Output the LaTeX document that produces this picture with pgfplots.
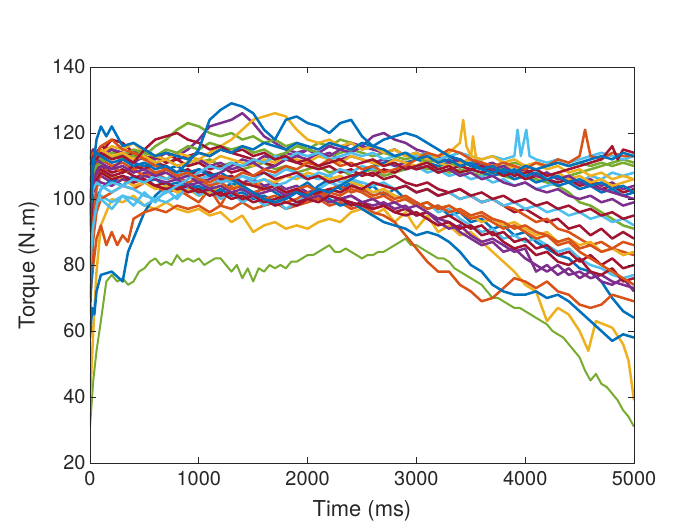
\documentclass[border=0pt]{standalone}
\usepackage{pgfplots}
\pgfplotsset{compat=1.18}
\usepackage{fontspec}
\setmainfont{TeX Gyre Heros}
\definecolor{mblue}{RGB}{0,114,189}
\definecolor{morange}{RGB}{217,83,25}
\definecolor{myellow}{RGB}{237,177,32}
\definecolor{mpurple}{RGB}{126,47,142}
\definecolor{mgreen}{RGB}{119,172,48}
\definecolor{mlblue}{RGB}{77,190,238}
\definecolor{mred}{RGB}{162,20,47}
\definecolor{axgray}{RGB}{38,38,38}
\begin{document}
\begin{tikzpicture}
\path[use as bounding box] (-90bp,-62bp) rectangle (610bp,463bp);
\begin{axis}[
  at={(0,0)}, anchor=south west,
  scale only axis, width=544bp, height=396bp,
  xmin=0, xmax=5000, ymin=20, ymax=140,
  xtick={0,1000,2000,3000,4000,5000},
  ytick={20,40,60,80,100,120,140},
  tick align=inside, major tick length=6bp,
  xtick pos=both, ytick pos=both,
  axis line style={axgray, line width=0.6bp},
  every tick/.style={axgray, line width=0.6bp},
  tick label style={font=\fontsize{20}{24}\selectfont, text=axgray},
  /pgf/number format/assume math mode=true,
  /pgf/number format/1000 sep={},
  xticklabel style={yshift=-5bp},
  yticklabel style={xshift=-1bp},
  label style={font=\fontsize{22}{26}\selectfont, text=axgray},
  xlabel={Time (ms)},
  ylabel={Torque (N.m)},
  xlabel style={at={(axis description cs:0.5,-0.121)}, anchor=center},
  ylabel style={at={(axis description cs:-0.112,0.5)}, anchor=center},
  axis on top,
  clip=true,
  every axis plot/.append style={line width=2.5bp, line join=round},
]
% G1
\addplot[mgreen, line width=2bp] coordinates {(0,31)(30,45)(60,54)(100,63)(150,75)(200,77)(250,75)(300,76)(350,74)(400,75)(450,78)(500,79)(550,81)(600,82)(650,80)(700,81)(750,80)(800,83)(850,81)(900,82)(950,81)(1000,82)(1050,80)(1100,81)(1150,82)(1200,82)(1250,80)(1300,78)(1350,80)(1400,76)(1450,79)(1500,75)(1550,79)(1600,78)(1650,80)(1700,79)(1750,80)(1800,79)(1850,81)(1900,81)(1950,82)(2000,83)(2050,83)(2100,84)(2150,85)(2200,86)(2250,84)(2300,84)(2350,85)(2400,84)(2450,83)(2500,82)(2550,83)(2600,83)(2650,84)(2700,84)(2750,85)(2800,86)(2850,87)(2900,88)(2950,86)(3000,86)(3050,85)(3100,84)(3150,83)(3200,82)(3250,82)(3300,81)(3350,79)(3400,78)(3450,77)(3500,76)(3550,75)(3600,74)(3650,72)(3700,70)(3750,70)(3800,69)(3850,68)(3900,67)(3950,67)(4000,66)(4050,65)(4100,64)(4150,63)(4200,62)(4250,60)(4300,59)(4350,58)(4400,56)(4450,54)(4500,52)(4550,48)(4600,45)(4650,47)(4700,44)(4750,43)(4800,41)(4850,39)(4900,36)(4950,34)(5000,31)};
% Y1
\addplot[myellow] coordinates {(0,39)(30,60)(60,78)(100,92)(200,100)(300,99)(400,101)(500,98)(600,97)(700,99)(800,97)(900,96)(1000,97)(1100,95)(1200,96)(1300,93)(1400,95)(1500,90)(1600,92)(1700,93)(1800,91)(1900,92)(2000,91)(2100,93)(2200,94)(2300,93)(2400,96)(2500,97)(2600,95)(2700,97)(2800,93)(2900,96)(3000,91)(3100,95)(3200,90)(3300,92)(3400,89)(3500,90)(3600,87)(3700,84)(3800,81)(3900,78)(4000,74)(4100,72)(4200,63)(4300,67)(4400,65)(4500,60)(4580,54)(4650,63)(4800,61)(4900,56)(4950,51)(5000,39)};
% B1
\addplot[mblue] coordinates {(0,58)(20,67)(40,65)(60,72)(100,77)(200,78)(300,75)(350,84)(400,88)(500,96)(600,101)(700,104)(800,102)(900,105)(1000,103)(1100,104)(1200,102)(1300,105)(1400,103)(1500,101)(1600,104)(1700,102)(1800,100)(1900,103)(2000,101)(2100,104)(2200,106)(2300,103)(2400,105)(2500,102)(2600,104)(2700,101)(2800,103)(2900,100)(3000,99)(3100,97)(3200,98)(3300,95)(3400,96)(3500,93)(3600,94)(3700,91)(3800,92)(3900,89)(4000,90)(4100,87)(4200,85)(4300,83)(4400,82)(4500,79)(4600,78)(4700,75)(4800,70)(4900,66)(5000,64)};
% O1
\addplot[morange] coordinates {(0,70)(30,80)(60,88)(100,92)(150,86)(200,90)(250,86)(300,89)(350,87)(400,94)(500,96)(600,97)(700,96)(800,98)(900,97)(1000,98)(1100,96)(1200,98)(1300,97)(1400,99)(1500,97)(1600,98)(1700,99)(1800,97)(1900,98)(2000,99)(2100,100)(2200,98)(2300,99)(2400,97)(2500,98)(2600,96)(2700,95)(2800,93)(2900,89)(3000,85)(3100,81)(3200,78)(3300,78)(3400,74)(3500,72)(3600,69)(3700,70)(3800,73)(3900,76)(4000,75)(4100,73)(4200,75)(4300,72)(4400,71)(4500,68)(4600,67)(4700,68)(4800,71)(4900,70)(5000,69)};
% P3
\addplot[mpurple] coordinates {(0,100)(30,106)(60,108)(100,107)(200,105)(300,107)(400,106)(500,108)(600,107)(700,109)(800,108)(900,107)(1000,109)(1100,108)(1200,106)(1300,107)(1400,105)(1500,106)(1600,104)(1700,105)(1800,103)(1900,104)(2000,102)(2100,103)(2200,101)(2300,100)(2400,101)(2500,99)(2600,98)(2700,99)(2800,97)(2900,98)(3000,95)(3100,96)(3200,93)(3300,91)(3400,92)(3500,89)(3600,87)(3700,88)(3800,86)(3900,84)(4000,85)(4100,78)(4200,80)(4300,77)(4400,79)(4500,76)(4600,78)(4700,75)(4800,74)(4900,76)(5000,72)};
% G3
\addplot[mgreen] coordinates {(0,108)(30,112)(60,114)(100,113)(200,115)(300,114)(400,113)(500,112)(600,113)(700,111)(800,112)(900,110)(1000,111)(1100,112)(1200,110)(1300,111)(1400,109)(1500,110)(1600,111)(1700,109)(1800,110)(1900,108)(2000,109)(2100,110)(2200,108)(2300,109)(2400,107)(2500,108)(2600,109)(2700,107)(2800,108)(2900,109)(3000,110)(3100,109)(3200,110)(3300,108)(3400,109)(3500,108)(3600,107)(3700,108)(3800,107)(3900,106)(4000,107)(4100,106)(4200,105)(4300,104)(4400,102)(4500,99)(4600,98)(4700,96)(4800,94)(4900,92)(5000,91)};
% LB2
\addplot[mlblue] coordinates {(0,90)(30,98)(60,102)(100,101)(200,99)(300,101)(400,100)(500,98)(600,100)(700,99)(800,101)(900,103)(1000,102)(1100,104)(1200,106)(1300,105)(1400,107)(1500,106)(1600,108)(1700,107)(1800,109)(1900,108)(2000,107)(2100,106)(2200,107)(2300,105)(2400,106)(2500,104)(2600,102)(2700,103)(2800,101)(2900,100)(3000,98)(3100,99)(3200,96)(3300,97)(3400,94)(3500,92)(3600,90)(3700,91)(3800,88)(3900,89)(4000,87)(4100,88)(4200,86)(4300,84)(4400,85)(4500,82)(4600,80)(4700,79)(4800,77)(4900,76)(5000,77)};
% R1
\addplot[mred] coordinates {(0,93)(30,104)(60,110)(100,114)(200,118)(300,117)(400,114)(500,115)(600,113)(700,114)(800,112)(900,113)(1000,114)(1100,113)(1200,115)(1300,114)(1400,113)(1500,112)(1600,111)(1700,110)(1800,112)(1900,111)(2000,110)(2100,109)(2200,110)(2300,108)(2400,109)(2500,107)(2600,108)(2700,106)(2800,107)(2900,105)(3000,104)(3100,105)(3200,103)(3300,102)(3400,103)(3500,101)(3600,99)(3700,100)(3800,98)(3900,96)(4000,97)(4100,95)(4200,93)(4300,94)(4400,91)(4500,92)(4600,89)(4700,91)(4800,88)(4900,90)(5000,88)};
% B3
\addplot[mblue] coordinates {(0,65)(30,90)(60,100)(100,103)(200,106)(300,104)(400,107)(500,105)(600,106)(700,104)(800,105)(900,103)(1000,104)(1100,102)(1200,103)(1300,101)(1400,102)(1500,100)(1600,101)(1700,99)(1800,101)(1900,103)(2000,105)(2100,102)(2200,100)(2300,98)(2400,99)(2500,97)(2600,95)(2700,93)(2800,92)(2900,91)(3000,89)(3100,90)(3200,89)(3300,87)(3400,84)(3500,80)(3600,78)(3700,74)(3800,72)(3900,71)(4000,71)(4100,72)(4200,70)(4300,71)(4400,69)(4500,66)(4600,63)(4700,60)(4800,57)(4900,59)(5000,58)};
% O3
\addplot[morange] coordinates {(0,75)(30,88)(60,96)(100,100)(200,102)(300,104)(400,103)(500,105)(600,104)(700,102)(800,103)(900,101)(1000,99)(1100,103)(1200,98)(1300,104)(1400,99)(1500,102)(1600,100)(1700,101)(1800,99)(1900,100)(2000,102)(2100,101)(2200,103)(2300,102)(2400,104)(2500,103)(2600,105)(2700,104)(2800,103)(2900,104)(3000,102)(3100,103)(3200,101)(3300,102)(3400,100)(3500,101)(3600,99)(3700,100)(3800,98)(3900,97)(4000,95)(4100,93)(4200,94)(4300,91)(4400,90)(4500,88)(4600,86)(4700,87)(4800,85)(4900,84)(5000,83)};
% Y3
\addplot[myellow] coordinates {(0,100)(30,104)(60,106)(100,108)(200,107)(300,106)(400,104)(500,105)(600,103)(700,104)(800,102)(900,103)(1000,101)(1100,102)(1200,104)(1300,103)(1400,105)(1500,104)(1600,106)(1700,105)(1800,107)(1900,106)(2000,108)(2100,107)(2200,106)(2300,107)(2400,105)(2500,104)(2600,102)(2700,103)(2800,101)(2900,100)(3000,98)(3100,99)(3200,97)(3300,98)(3400,96)(3500,95)(3600,93)(3700,94)(3800,92)(3900,93)(4000,91)(4100,89)(4200,90)(4300,87)(4400,88)(4500,86)(4600,87)(4700,84)(4800,85)(4900,83)(5000,84)};
% LB3
\addplot[mlblue] coordinates {(0,85)(30,95)(60,99)(100,100)(200,97)(300,101)(400,98)(500,102)(600,99)(700,103)(800,100)(900,104)(1000,101)(1100,103)(1200,100)(1300,102)(1400,99)(1500,101)(1600,98)(1700,100)(1800,97)(1900,99)(2000,101)(2100,103)(2200,105)(2300,104)(2400,106)(2500,105)(2600,104)(2700,105)(2800,103)(2900,104)(3000,102)(3100,103)(3200,101)(3300,102)(3400,100)(3500,101)(3600,99)(3700,100)(3800,98)(3900,99)(4000,97)(4100,98)(4200,96)(4300,97)(4400,95)(4500,96)(4600,94)(4700,95)(4800,93)(4900,94)(5000,92)};
% R3
\addplot[mred] coordinates {(0,98)(30,106)(60,109)(100,110)(200,108)(300,109)(400,107)(500,106)(600,104)(700,105)(800,103)(900,104)(1000,102)(1100,103)(1200,101)(1300,102)(1400,100)(1500,101)(1600,99)(1700,100)(1800,101)(1900,99)(2000,100)(2100,101)(2200,99)(2300,100)(2400,98)(2500,99)(2600,97)(2700,98)(2800,96)(2900,97)(3000,95)(3100,96)(3200,94)(3300,95)(3400,93)(3500,91)(3600,92)(3700,89)(3800,90)(3900,87)(4000,88)(4100,85)(4200,86)(4300,83)(4400,84)(4500,81)(4600,83)(4700,80)(4800,82)(4900,79)(5000,80)};
% O4
\addplot[morange] coordinates {(0,80)(30,95)(60,103)(100,108)(200,110)(300,108)(400,109)(500,107)(600,108)(700,106)(800,107)(900,105)(1000,106)(1100,104)(1200,105)(1300,103)(1400,104)(1500,102)(1600,103)(1700,104)(1800,102)(1900,103)(2000,101)(2100,100)(2200,102)(2300,101)(2400,103)(2500,102)(2600,100)(2700,101)(2800,99)(2900,100)(3000,98)(3100,99)(3200,97)(3300,98)(3400,96)(3500,94)(3600,95)(3700,93)(3800,91)(3900,92)(4000,90)(4100,88)(4200,89)(4300,87)(4400,88)(4500,85)(4600,86)(4700,84)(4800,85)(4900,87)(5000,86)};
% P5
\addplot[mpurple] coordinates {(0,97)(30,104)(60,106)(100,105)(200,104)(300,106)(400,105)(500,107)(600,106)(700,105)(800,106)(900,104)(1000,105)(1100,103)(1200,104)(1300,102)(1400,103)(1500,101)(1600,102)(1700,103)(1800,101)(1900,102)(2000,100)(2100,101)(2200,99)(2300,100)(2400,101)(2500,99)(2600,100)(2700,98)(2800,99)(2900,97)(3000,98)(3100,96)(3200,94)(3300,93)(3400,90)(3500,88)(3600,86)(3700,87)(3800,84)(3900,85)(4000,82)(4100,80)(4200,78)(4300,80)(4400,77)(4500,78)(4600,76)(4700,77)(4800,75)(4900,74)(5000,73)};
% R6
\addplot[mred] coordinates {(0,90)(30,102)(60,106)(100,108)(200,106)(300,107)(400,105)(500,106)(600,104)(700,103)(800,104)(900,102)(1000,103)(1100,101)(1200,102)(1300,100)(1400,101)(1500,99)(1600,100)(1700,98)(1800,99)(1900,98)(2000,100)(2100,99)(2200,101)(2300,100)(2400,99)(2500,98)(2600,97)(2700,98)(2800,96)(2900,95)(3000,96)(3100,94)(3200,92)(3300,93)(3400,91)(3500,92)(3600,89)(3700,90)(3800,87)(3900,85)(4000,86)(4100,83)(4200,84)(4300,81)(4400,80)(4500,82)(4600,78)(4700,77)(4800,79)(4900,75)(5000,76)};
% O5
\addplot[morange] coordinates {(0,100)(30,108)(60,111)(100,112)(200,110)(300,111)(400,109)(500,110)(600,108)(700,109)(800,107)(900,108)(1000,106)(1100,107)(1200,105)(1300,106)(1400,104)(1500,105)(1600,103)(1700,104)(1800,102)(1900,103)(2000,104)(2100,102)(2200,103)(2300,104)(2400,102)(2500,103)(2600,101)(2700,102)(2800,100)(2900,101)(3000,99)(3100,97)(3200,98)(3300,96)(3400,97)(3500,95)(3600,96)(3700,94)(3800,93)(3900,91)(4000,92)(4100,90)(4200,89)(4300,86)(4400,87)(4500,84)(4600,82)(4700,80)(4800,78)(4900,76)(5000,74)};
% R4
\addplot[mred] coordinates {(0,95)(30,105)(60,108)(100,109)(200,107)(300,108)(400,110)(500,109)(600,111)(700,110)(800,108)(900,109)(1000,107)(1100,108)(1200,106)(1300,107)(1400,105)(1500,104)(1600,103)(1700,104)(1800,102)(1900,103)(2000,101)(2100,102)(2200,103)(2300,102)(2400,104)(2500,103)(2600,105)(2700,104)(2800,103)(2900,104)(3000,102)(3100,103)(3200,101)(3300,102)(3400,103)(3500,101)(3600,102)(3700,100)(3800,101)(3900,99)(4000,100)(4100,98)(4200,99)(4300,97)(4400,98)(4500,96)(4600,97)(4700,95)(4800,96)(4900,94)(5000,95)};
% LB4
\addplot[mlblue] coordinates {(0,80)(30,92)(60,98)(100,103)(200,105)(300,104)(400,106)(500,105)(600,107)(700,106)(800,108)(900,107)(1000,106)(1100,107)(1200,105)(1300,106)(1400,107)(1500,105)(1600,106)(1700,104)(1800,105)(1900,107)(2000,106)(2100,108)(2200,107)(2300,109)(2400,108)(2500,110)(2600,109)(2700,111)(2800,110)(2900,109)(3000,110)(3100,108)(3200,109)(3300,107)(3400,108)(3500,106)(3600,107)(3700,105)(3800,106)(3900,104)(4000,105)(4100,103)(4200,104)(4300,105)(4400,106)(4500,105)(4600,107)(4700,106)(4800,108)(4900,107)(5000,108)};
% B6
\addplot[mblue] coordinates {(0,105)(30,110)(60,112)(100,111)(200,113)(300,112)(400,111)(500,110)(600,111)(700,109)(800,110)(900,108)(1000,109)(1100,107)(1200,108)(1300,106)(1400,104)(1500,102)(1600,100)(1700,99)(1800,100)(1900,102)(2000,101)(2100,103)(2200,102)(2300,104)(2400,106)(2500,108)(2600,110)(2700,111)(2800,112)(2900,111)(3000,112)(3100,111)(3200,110)(3300,111)(3400,110)(3500,109)(3600,108)(3700,107)(3800,108)(3900,106)(4000,107)(4100,105)(4200,106)(4300,104)(4400,105)(4500,103)(4600,104)(4700,102)(4800,103)(4900,101)(5000,102)};
% P1
\addplot[mpurple] coordinates {(0,95)(30,105)(60,108)(100,110)(200,109)(300,112)(400,111)(500,113)(600,112)(700,114)(800,113)(900,115)(1000,118)(1100,122)(1200,123)(1300,124)(1400,126)(1500,123)(1600,119)(1700,117)(1800,115)(1900,114)(2000,115)(2100,113)(2200,114)(2300,112)(2400,113)(2500,112)(2600,111)(2700,112)(2800,110)(2900,111)(3000,109)(3100,110)(3200,108)(3300,109)(3400,107)(3500,108)(3600,106)(3700,107)(3800,105)(3900,104)(4000,105)(4100,103)(4200,102)(4300,103)(4400,101)(4500,100)(4600,101)(4700,99)(4800,100)(4900,98)(5000,99)};
% G2
\addplot[mgreen] coordinates {(0,100)(30,108)(60,110)(100,111)(200,113)(300,112)(400,114)(500,113)(600,116)(700,118)(800,121)(900,123)(1000,122)(1100,120)(1200,119)(1300,120)(1400,118)(1500,119)(1600,117)(1700,118)(1800,116)(1900,117)(2000,115)(2100,117)(2200,116)(2300,118)(2400,117)(2500,115)(2600,116)(2700,114)(2800,115)(2900,113)(3000,114)(3100,112)(3200,113)(3300,111)(3400,112)(3500,110)(3600,111)(3700,109)(3800,110)(3900,108)(4000,109)(4100,107)(4200,108)(4300,106)(4400,107)(4500,108)(4600,109)(4700,110)(4800,111)(4900,112)(5000,111)};
% R5
\addplot[mred] coordinates {(0,112)(30,115)(60,114)(100,116)(200,115)(300,113)(400,114)(500,112)(600,113)(700,111)(800,112)(900,110)(1000,111)(1100,109)(1200,110)(1300,108)(1400,109)(1500,107)(1600,108)(1700,106)(1800,107)(1900,108)(2000,106)(2100,107)(2200,105)(2300,106)(2400,107)(2500,108)(2600,107)(2700,109)(2800,108)(2900,110)(3000,109)(3100,110)(3200,108)(3300,109)(3400,110)(3500,109)(3600,108)(3700,109)(3800,107)(3900,108)(4000,106)(4100,107)(4200,106)(4300,105)(4400,106)(4500,104)(4600,105)(4700,103)(4800,104)(4900,102)(5000,103)};
% P2
\addplot[mpurple] coordinates {(0,105)(30,110)(60,112)(100,111)(200,109)(300,110)(400,108)(500,109)(600,107)(700,108)(800,106)(900,107)(1000,105)(1100,106)(1200,108)(1300,110)(1400,112)(1500,111)(1600,113)(1700,112)(1800,114)(1900,113)(2000,115)(2100,114)(2200,116)(2300,115)(2400,117)(2500,116)(2600,119)(2700,120)(2800,118)(2900,117)(3000,115)(3100,114)(3200,112)(3300,113)(3400,111)(3500,112)(3600,110)(3700,111)(3800,109)(3900,110)(4000,108)(4100,107)(4200,108)(4300,106)(4400,107)(4500,105)(4600,106)(4700,104)(4800,105)(4900,103)(5000,104)};
% Y4
\addplot[myellow] coordinates {(0,114)(30,115)(60,113)(100,114)(200,116)(300,115)(400,117)(500,114)(600,113)(700,112)(800,114)(900,113)(1000,112)(1100,111)(1200,113)(1300,112)(1400,111)(1500,110)(1600,112)(1700,111)(1800,113)(1900,112)(2000,111)(2100,113)(2200,112)(2300,111)(2400,113)(2500,112)(2600,111)(2700,110)(2800,112)(2900,111)(3000,110)(3100,112)(3200,111)(3300,110)(3400,111)(3500,112)(3520,119)(3550,112)(3600,111)(3700,110)(3800,109)(3900,110)(4000,108)(4100,109)(4200,107)(4300,108)(4400,106)(4500,107)(4600,105)(4700,106)(4800,104)(4900,105)(5000,106)};
% G4
\addplot[mgreen] coordinates {(0,112)(30,114)(60,113)(100,112)(200,114)(300,113)(400,115)(500,114)(600,113)(700,115)(800,114)(900,116)(1000,115)(1100,117)(1200,116)(1300,115)(1400,116)(1500,114)(1600,115)(1700,113)(1800,114)(1900,116)(2000,115)(2100,114)(2200,113)(2300,114)(2400,115)(2500,114)(2600,113)(2700,114)(2800,113)(2900,112)(3000,113)(3100,111)(3200,112)(3300,111)(3400,110)(3500,111)(3600,110)(3700,109)(3800,110)(3900,111)(4000,110)(4100,111)(4200,110)(4300,111)(4400,110)(4500,111)(4600,110)(4700,111)(4800,110)(4900,111)(5000,110)};
% P4
\addplot[mpurple] coordinates {(0,113)(30,115)(60,114)(100,113)(200,115)(300,114)(400,112)(500,113)(600,111)(700,112)(800,110)(900,111)(1000,112)(1100,110)(1200,111)(1300,109)(1400,110)(1500,111)(1600,109)(1700,110)(1800,112)(1900,113)(2000,112)(2100,114)(2200,113)(2300,115)(2400,114)(2500,116)(2600,115)(2700,114)(2800,115)(2900,113)(3000,114)(3100,112)(3200,113)(3300,111)(3400,112)(3500,110)(3600,111)(3700,109)(3800,110)(3900,108)(4000,109)(4100,107)(4200,108)(4300,106)(4400,107)(4500,105)(4600,104)(4700,103)(4800,102)(4900,101)(5000,100)};
% LB1
\addplot[mlblue] coordinates {(0,97)(30,103)(60,105)(100,104)(200,102)(300,104)(400,103)(500,101)(600,100)(700,102)(800,104)(900,106)(1000,108)(1100,110)(1200,109)(1300,111)(1400,110)(1500,112)(1600,111)(1700,113)(1800,112)(1900,114)(2000,113)(2100,114)(2200,112)(2300,113)(2400,114)(2500,113)(2600,114)(2700,112)(2800,113)(2900,114)(3000,113)(3100,114)(3200,112)(3300,113)(3400,114)(3500,113)(3600,112)(3700,113)(3800,112)(3900,113)(3930,121)(3960,113)(4010,121)(4040,113)(4100,112)(4200,111)(4300,112)(4400,111)(4500,112)(4600,113)(4700,114)(4800,113)(4900,112)(5000,113)};
% Y2
\addplot[myellow] coordinates {(0,110)(30,113)(60,112)(100,115)(200,113)(300,114)(400,112)(500,113)(600,111)(700,112)(800,110)(900,111)(1000,112)(1100,114)(1200,116)(1300,118)(1400,121)(1500,124)(1600,125)(1700,126)(1800,125)(1900,121)(2000,118)(2100,117)(2200,118)(2300,116)(2400,117)(2500,115)(2600,116)(2700,114)(2800,115)(2900,113)(3000,114)(3100,112)(3200,113)(3300,114)(3400,117)(3430,124)(3460,116)(3500,113)(3600,112)(3700,113)(3800,111)(3900,112)(4000,110)(4100,111)(4200,109)(4300,110)(4400,108)(4500,109)(4600,107)(4700,108)(4800,106)(4900,107)(5000,106)};
% O2
\addplot[morange] coordinates {(0,112)(30,114)(60,113)(100,116)(200,118)(300,115)(400,114)(500,112)(600,110)(700,109)(800,107)(900,108)(1000,106)(1100,105)(1200,107)(1300,106)(1400,108)(1500,107)(1600,109)(1700,108)(1800,110)(1900,109)(2000,111)(2100,110)(2200,112)(2300,110)(2400,111)(2500,109)(2600,110)(2700,108)(2800,109)(2900,110)(3000,112)(3100,114)(3200,113)(3300,115)(3400,114)(3500,112)(3600,111)(3700,110)(3800,111)(3900,110)(4000,109)(4100,111)(4200,110)(4300,112)(4400,111)(4500,113)(4550,121)(4600,113)(4700,112)(4800,114)(4900,113)(5000,113)};
% R2
\addplot[mred] coordinates {(0,110)(30,113)(60,112)(100,114)(200,112)(300,113)(400,111)(500,115)(600,118)(700,119)(800,120)(900,118)(1000,117)(1100,115)(1200,116)(1300,114)(1400,115)(1500,113)(1600,114)(1700,112)(1800,113)(1900,111)(2000,112)(2100,110)(2200,111)(2300,112)(2400,110)(2500,111)(2600,112)(2700,110)(2800,111)(2900,109)(3000,110)(3100,111)(3200,109)(3300,110)(3400,108)(3500,109)(3600,110)(3700,108)(3800,109)(3900,107)(4000,108)(4100,109)(4200,107)(4300,108)(4400,109)(4500,110)(4600,111)(4700,112)(4800,116)(4850,112)(4900,115)(5000,114)};
% B5
\addplot[mblue] coordinates {(0,92)(30,110)(60,118)(100,122)(150,119)(200,122)(300,116)(400,117)(500,115)(600,113)(700,114)(800,113)(900,112)(1000,114)(1100,113)(1200,115)(1300,114)(1400,116)(1500,115)(1600,117)(1700,116)(1800,115)(1900,117)(2000,116)(2100,115)(2200,117)(2300,116)(2400,115)(2500,117)(2600,116)(2700,118)(2800,119)(2900,120)(3000,119)(3100,117)(3200,115)(3300,113)(3400,112)(3500,110)(3600,109)(3700,108)(3800,109)(3900,108)(4000,110)(4100,109)(4200,110)(4300,111)(4400,110)(4500,111)(4600,112)(4700,113)(4800,112)(4900,114)(5000,113)};
% B2
\addplot[mblue] coordinates {(0,100)(30,112)(60,114)(100,113)(200,111)(300,112)(400,110)(500,111)(600,109)(700,110)(800,108)(900,111)(1000,115)(1100,124)(1200,127)(1300,129)(1400,128)(1500,126)(1600,121)(1700,118)(1800,124)(1900,125)(2000,123)(2100,122)(2200,120)(2300,123)(2400,124)(2500,119)(2600,116)(2700,115)(2800,113)(2900,114)(3000,112)(3100,113)(3200,111)(3300,112)(3400,110)(3500,111)(3600,109)(3700,110)(3800,108)(3900,109)(4000,107)(4100,108)(4200,106)(4300,107)(4400,105)(4500,106)(4600,104)(4700,105)(4800,103)(4900,104)(5000,102)};
\end{axis}
\end{tikzpicture}
\end{document}
